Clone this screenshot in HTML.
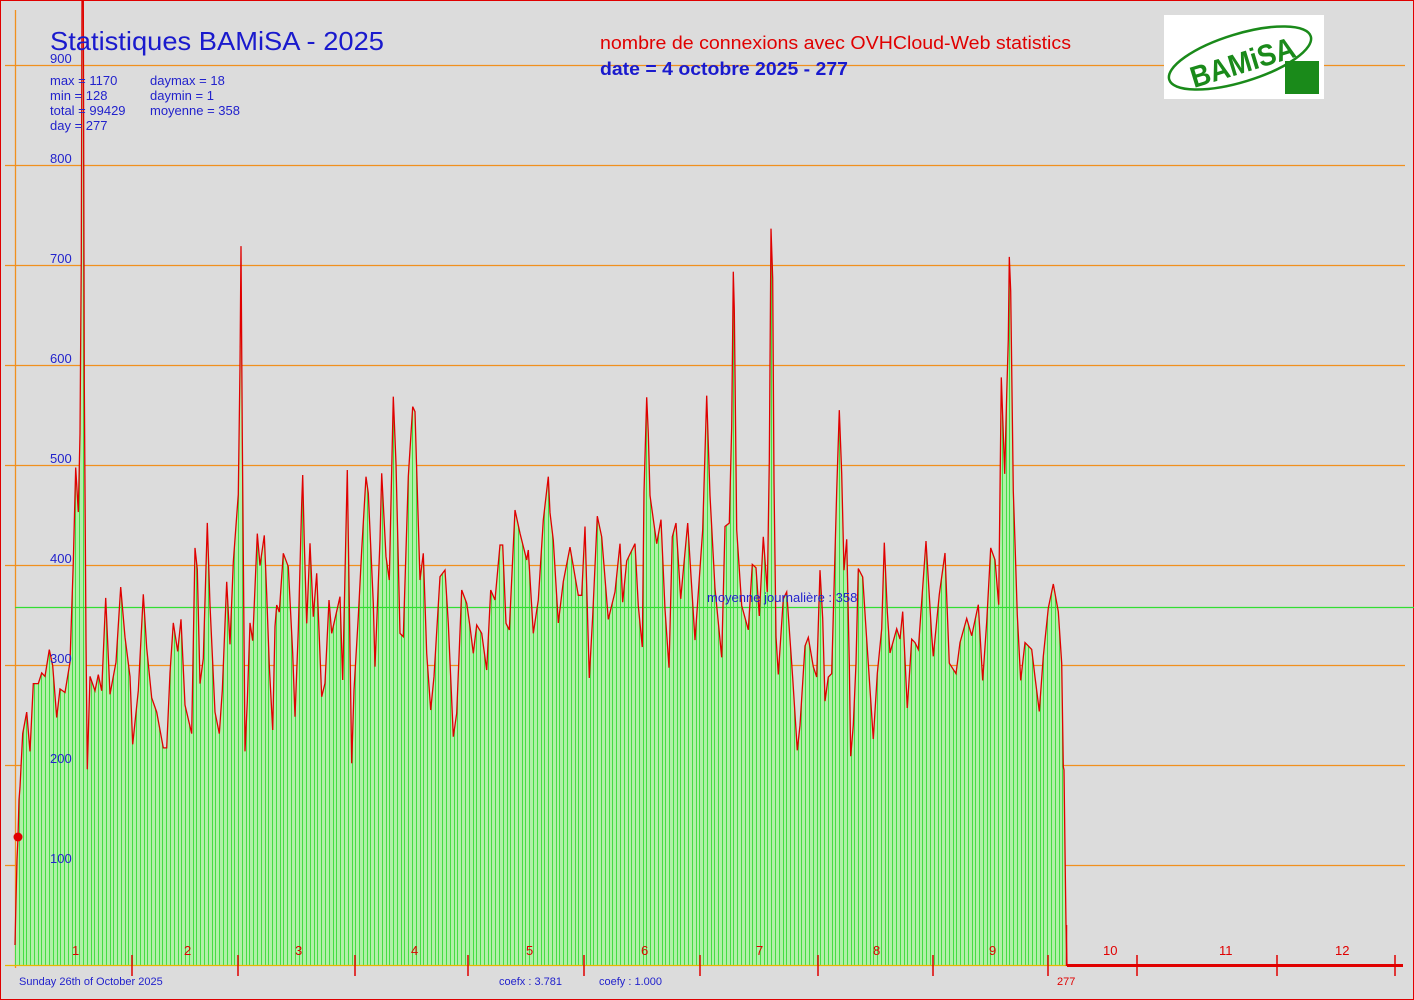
<!DOCTYPE html>
<html><head><meta charset="utf-8"><style>
html,body{margin:0;padding:0;background:#dcdcdc}
svg{display:block}
text{font-family:"Liberation Sans",Arial,sans-serif}
</style></head><body>
<svg id="s" width="1414" height="1000" xmlns="http://www.w3.org/2000/svg">
<rect x="0" y="0" width="1414" height="1000" fill="#dcdcdc"/>
<rect x="0.5" y="0.5" width="1413" height="999" fill="none" stroke="#e00000" stroke-width="1"/>
<g id="grid"></g>
<line x1="15.5" y1="10" x2="15.5" y2="968" stroke="#f0901e" stroke-width="1.3"/>
<defs><clipPath id="cp"><polygon id="cpoly" points=""/></clipPath></defs>
<polygon id="fill" fill="#b0f0a8" points=""/>
<g id="bars" clip-path="url(#cp)"></g>
<line x1="15" y1="607.5" x2="1414" y2="607.5" stroke="#33dd33" stroke-width="1.2"/>
<polyline id="line" fill="none" stroke="#e00000" stroke-width="1.3" points=""/>
<line x1="5" y1="965.5" x2="1067" y2="965.5" stroke="#e8b800" stroke-width="1.2"/>
<line x1="1067" y1="965.5" x2="1403" y2="965.5" stroke="#e00000" stroke-width="3"/>
<line x1="1066.5" y1="925" x2="1066.5" y2="966" stroke="#e00000" stroke-width="1.5"/>
<g id="ticks"></g>
<circle cx="18" cy="837" r="4.5" fill="#e00000"/>
<g fill="#2222cc" font-size="13" id="ylab"></g>
<text x="50" y="50" font-size="26" fill="#1a1acd" textLength="334" lengthAdjust="spacingAndGlyphs">Statistiques BAMiSA - 2025</text>
<text x="600" y="49" font-size="18" fill="#e00000" textLength="471" lengthAdjust="spacingAndGlyphs">nombre de connexions avec OVHCloud-Web statistics</text>
<text x="600" y="75" font-size="18" fill="#1a1acd" font-weight="bold" textLength="248" lengthAdjust="spacingAndGlyphs">date = 4 octobre 2025 - 277</text>
<g fill="#2222cc" font-size="13">
<text x="50" y="85">max = 1170</text><text x="150" y="85">daymax = 18</text>
<text x="50" y="100">min = 128</text><text x="150" y="100">daymin = 1</text>
<text x="50" y="115">total = 99429</text><text x="150" y="115">moyenne = 358</text>
<text x="50" y="130">day = 277</text>
<text x="707" y="602">moyenne journalière : 358</text>
<text x="19" y="985" font-size="11">Sunday 26th of October 2025</text>
<text x="499" y="985" font-size="11">coefx : 3.781</text>
<text x="599" y="985" font-size="11">coefy : 1.000</text>
</g>
<text x="1057" y="985" font-size="11" fill="#e00000">277</text>
<g fill="#e00000" font-size="13" id="mlab"></g>
<g>
<rect x="1164" y="15" width="160" height="84" fill="#ffffff"/>
<ellipse cx="1240" cy="58" rx="74" ry="24" transform="rotate(-17 1240 58)" fill="none" stroke="#1a8a1a" stroke-width="2.5"/>
<text x="1194" y="88" font-size="30" font-weight="bold" fill="#1a8a1a" transform="rotate(-17 1194 88)" textLength="108" lengthAdjust="spacingAndGlyphs">BAMiSA</text>
<rect x="1285" y="61" width="34" height="33" fill="#1a8a1a"/>
</g>
</svg>
<script>
var NS="http://www.w3.org/2000/svg";
function el(p,t,a,txt){var e=document.createElementNS(NS,t);for(var k in a)e.setAttribute(k,a[k]);if(txt)e.textContent=txt;p.appendChild(e);return e;}
var g=document.getElementById('grid');
for(var v=100;v<=900;v+=100){var y=965-v+0.5;el(g,'line',{x1:5,y1:y,x2:1405,y2:y,stroke:'#f0901e','stroke-width':1.3});
el(document.getElementById('ylab'),'text',{x:50,y:965-v-2},String(v));}
var tk=document.getElementById('ticks');
[132,238,355,468,584,700,818,933,1048,1137,1277,1395].forEach(function(x){el(tk,'line',{x1:x,y1:955,x2:x,y2:976,stroke:'#e00000','stroke-width':1.5});});
var ml=document.getElementById('mlab');
[[72,1],[184,2],[295,3],[411,4],[526,5],[641,6],[756,7],[873,8],[989,9],[1103,10],[1219,11],[1335,12]].forEach(function(a){el(ml,'text',{x:a[0],y:955},String(a[1]));});

var pts=[[15,945],[16,900],[17,860],[18,837],[19,800]];
function add(ox,oy,sx,sy,raw,lo,hi){raw.forEach(function(r){var x=ox+r[0]/sx,y=oy+r[1]/sy;if(x>=lo&&x<hi)pts.push([x,y]);});}
add(10,230,3,2.8,[[30,1560],[38,1410],[50,1350],[60,1460],[70,1270],[85,1270],[95,1240],[105,1250],[118,1175],[128,1220],[140,1365],[150,1285],[165,1295],[180,1210],[190,930],[197,665],[205,790],[210,570],[214,80],[216,-700],[220,-700],[223,430],[228,1150],[232,1510],[240,1250],[255,1290],[265,1245],[275,1290],[287,1030],[300,1300],[318,1210],[332,1000],[345,1140],[360,1250],[368,1440],[385,1290],[400,1020],[410,1170],[425,1310],[440,1350],[460,1450],[470,1450],[480,1240],[490,1100],[503,1180],[513,1090],[525,1330],[545,1410],[555,890],[562,950],[570,1270],[580,1200],[592,820],[600,1050],[615,1350],[628,1410],[637,1290],[650,985],[660,1160],[670,930],[685,740],[690,380],[693,45],[697,580],[705,1460],[712,1320],[720,1100],[728,1150],[742,850],[750,940],[763,855],[770,1020],[778,1220],[788,1400],[795,1110],[800,1050],[808,1070],[820,900]],19.5,283);
add(280,370,3,3,[[10,550],[25,590],[38,850],[45,1040],[55,780],[65,400],[68,315],[73,520],[80,760],[90,520],[100,740],[110,610],[125,980],[135,940],[147,690],[155,790],[180,680],[188,930],[200,380],[202,300],[210,840],[215,1180],[222,960],[235,740],[245,540],[258,320],[265,370],[280,700],[285,890],[300,510],[305,310],[318,560],[328,630],[340,80],[348,280],[360,790],[370,800],[385,320],[398,110],[405,125],[410,300],[420,630],[430,550],[440,850],[452,1020],[462,920],[480,620],[495,600],[505,760],[520,1100],[530,1030],[545,660],[560,700],[570,770],[580,850],[590,765],[605,790],[620,900],[632,660],[645,690],[660,525],[668,525],[678,760],[688,780],[705,420],[720,490],[740,570],[745,540],[760,790],[775,690],[790,450],[805,320],[818,530],[825,500]],283,550);
add(550,220,3,2.904,[[0,850],[10,930],[25,1170],[40,1050],[60,950],[85,1090],[95,1090],[105,890],[118,1330],[128,1150],[142,860],[155,920],[175,1160],[195,1080],[210,940],[218,1110],[230,990],[255,940],[265,1120],[277,1240],[282,790],[290,515],[295,620],[300,800],[320,940],[333,870],[345,1130],[357,1300],[367,920],[378,880],[392,1100],[413,880],[435,1220],[458,900],[470,510],[480,800],[495,1070],[515,1270],[525,890],[538,880],[545,600],[550,150],[553,260],[560,900],[575,1120],[595,1190],[607,1000],[618,1010],[628,1150],[640,920],[652,1080],[658,700],[663,25],[668,170],[672,760],[678,1210],[685,1320],[700,1100],[710,1080],[728,1330],[742,1540],[752,1420],[768,1220],[778,1210],[795,1320]],550,800);
add(800,250,3,2.904,[[0,1380],[15,1150],[25,1125],[40,1210],[50,1240],[60,930],[68,1070],[75,1310],[85,1240],[95,1230],[110,700],[118,465],[125,650],[132,930],[140,840],[148,1200],[152,1470],[160,1380],[168,1200],[175,925],[188,950],[198,1100],[220,1420],[232,1230],[245,1100],[253,850],[262,1050],[270,1170],[290,1100],[300,1130],[308,1050],[322,1330],[335,1130],[345,1140],[355,1160],[378,845],[395,1120],[400,1180],[418,1000],[435,880],[448,1200],[468,1230],[480,1140],[500,1070],[515,1120],[535,1030],[548,1250],[560,1080],[572,865],[585,900],[596,1030],[604,370],[614,650],[620,420],[625,260],[628,20],[632,120],[640,700],[645,850],[652,1060],[662,1250],[675,1140],[695,1160],[705,1240],[718,1340],[730,1180],[745,1040],[760,970],[775,1050],[785,1200],[790,1500]],800,1064);
pts.push([1064,770],[1065,850],[1066,925],[1067,965]);
pts=pts.map(function(p){return [p[0],Math.max(0,p[1])];});
var s=pts.map(function(p){return p[0].toFixed(1)+','+p[1].toFixed(1);}).join(' ');
document.getElementById('line').setAttribute('points',s);
var poly=s+' 1067,965 15,965';
document.getElementById('fill').setAttribute('points',poly);
document.getElementById('cpoly').setAttribute('points',poly);
var b=document.getElementById('bars');
for(var i=0;i<=277;i++){var x=Math.round(15+i*3.781)+0.5;el(b,'line',{x1:x,y1:0,x2:x,y2:965,stroke:'#44dd44','stroke-width':1});}
</script>
</body></html>
